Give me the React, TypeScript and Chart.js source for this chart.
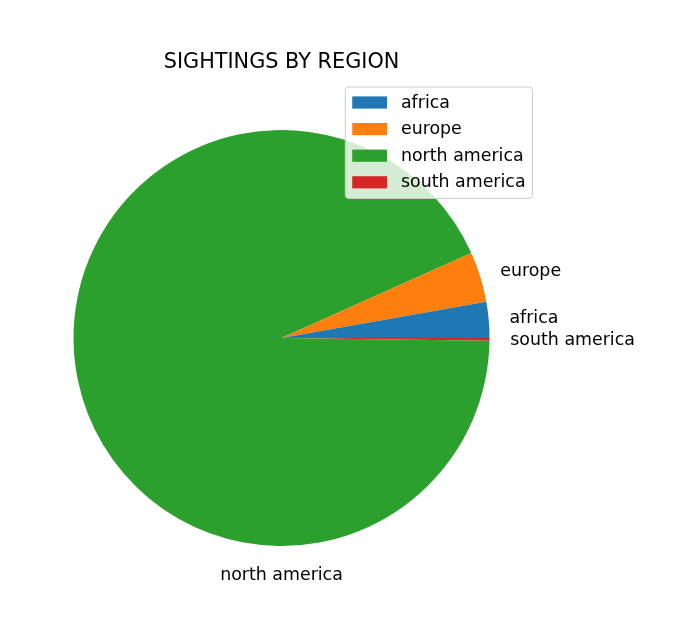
import { useEffect, useRef } from 'react';
import { Chart, registerables } from 'chart.js';

Chart.register(...registerables);

// ---- data (legend order, counter-clockwise from 3 o'clock) ----
const categories = ['africa', 'europe', 'north america', 'south america'];
const sightings = [278, 392, 9309, 21];
const colors = ['#1f77b4', '#ff7f0e', '#2ca02c', '#d62728'];
const chartTitle = 'SIGHTINGS BY REGION';

const FONT = '"DejaVu Sans", "Liberation Sans", sans-serif';
const LABEL_PX = 17.4;
const TITLE_PX = 20.8;

const overlayPlugin = {
  id: 'mplOverlay',
  afterDraw(chart: any) {
    const ctx = chart.ctx as CanvasRenderingContext2D;
    const meta = chart.getDatasetMeta(0);
    const labels = chart.data.labels as string[];
    const area = chart.chartArea;
    ctx.save();

    // title
    ctx.fillStyle = '#000';
    ctx.font = `${TITLE_PX}px ${FONT}`;
    ctx.textAlign = 'center';
    ctx.textBaseline = 'alphabetic';
    ctx.fillText(chartTitle, (area.left + area.right) / 2, 68.3);

    // slice labels
    ctx.font = `${LABEL_PX}px ${FONT}`;
    meta.data.forEach((arc: any, i: number) => {
      const p = arc.getProps(['x', 'y', 'startAngle', 'endAngle', 'outerRadius'], true);
      const name = labels[i];
      let mid = (p.startAngle + p.endAngle) / 2;
      let dist = 1.1 * p.outerRadius;
      let align: CanvasTextAlign;
      if (name === 'north america') {
        mid = Math.PI / 2;
        dist = 1.14 * p.outerRadius;
        align = 'center';
      } else {
        align = Math.cos(mid) > 0 ? 'left' : 'right';
      }
      const tx = p.x + Math.cos(mid) * dist;
      const ty = p.y + Math.sin(mid) * dist;
      ctx.textAlign = align;
      ctx.fillText(name, tx, ty + 0.29 * LABEL_PX);
    });

    // legend (upper right)
    const em = LABEL_PX;
    const pad = 0.4 * em;
    const handleW = 2.0 * em;
    const handleH = 0.7 * em;
    const textPad = 0.8 * em;
    const rowH = 26.6;
    const maxText = Math.max(...categories.map((c) => ctx.measureText(c).width));
    const right = 532.5;
    const top = 87;
    const width = pad + handleW + textPad + maxText + pad;
    const left = right - width;
    const height = 111.5;
    const r = 3.5;
    ctx.beginPath();
    ctx.moveTo(left + r, top);
    ctx.lineTo(right - r, top);
    ctx.arcTo(right, top, right, top + r, r);
    ctx.lineTo(right, top + height - r);
    ctx.arcTo(right, top + height, right - r, top + height, r);
    ctx.lineTo(left + r, top + height);
    ctx.arcTo(left, top + height, left, top + height - r, r);
    ctx.lineTo(left, top + r);
    ctx.arcTo(left, top, left + r, top, r);
    ctx.closePath();
    ctx.fillStyle = 'rgba(255,255,255,0.8)';
    ctx.fill();
    ctx.strokeStyle = '#cccccc';
    ctx.lineWidth = 1;
    ctx.stroke();

    ctx.textAlign = 'left';
    categories.forEach((c, i) => {
      const cy = top + 15.5 + i * rowH;
      ctx.fillStyle = colors[i];
      ctx.fillRect(left + pad, cy - handleH / 2, handleW, handleH);
      ctx.fillStyle = '#000';
      ctx.fillText(c, left + pad + handleW + textPad, cy + 0.29 * em);
    });

    ctx.restore();
  },
};

export default function App() {
  const canvasRef = useRef<HTMLCanvasElement | null>(null);

  useEffect(() => {
    document.body.style.margin = '0';
    const canvas = canvasRef.current;
    if (!canvas) return;
    // Chart.js draws clockwise, so reverse to mimic counter-clockwise ordering
    const labels = [...categories].reverse();
    const values = [...sightings].reverse();
    const bg = [...colors].reverse();
    const chart = new Chart(canvas, {
      type: 'pie',
      data: {
        labels,
        datasets: [
          {
            data: values,
            backgroundColor: bg,
            borderWidth: 0,
            hoverOffset: 0,
            offset: 0,
          },
        ],
      },
      options: {
        responsive: false,
        animation: false,
        rotation: 90,
        layout: { padding: { left: 73.5, right: 208.5, top: 130, bottom: 89 } },
        plugins: {
          legend: { display: false },
          title: { display: false },
          tooltip: { enabled: false },
        },
        events: [],
      },
      plugins: [overlayPlugin],
    });
    return () => chart.destroy();
  }, []);

  return (
    <div style={{ width: 698, height: 635, background: '#fff' }}>
      <canvas ref={canvasRef} width={698} height={635} style={{ display: 'block' }} />
    </div>
  );
}
